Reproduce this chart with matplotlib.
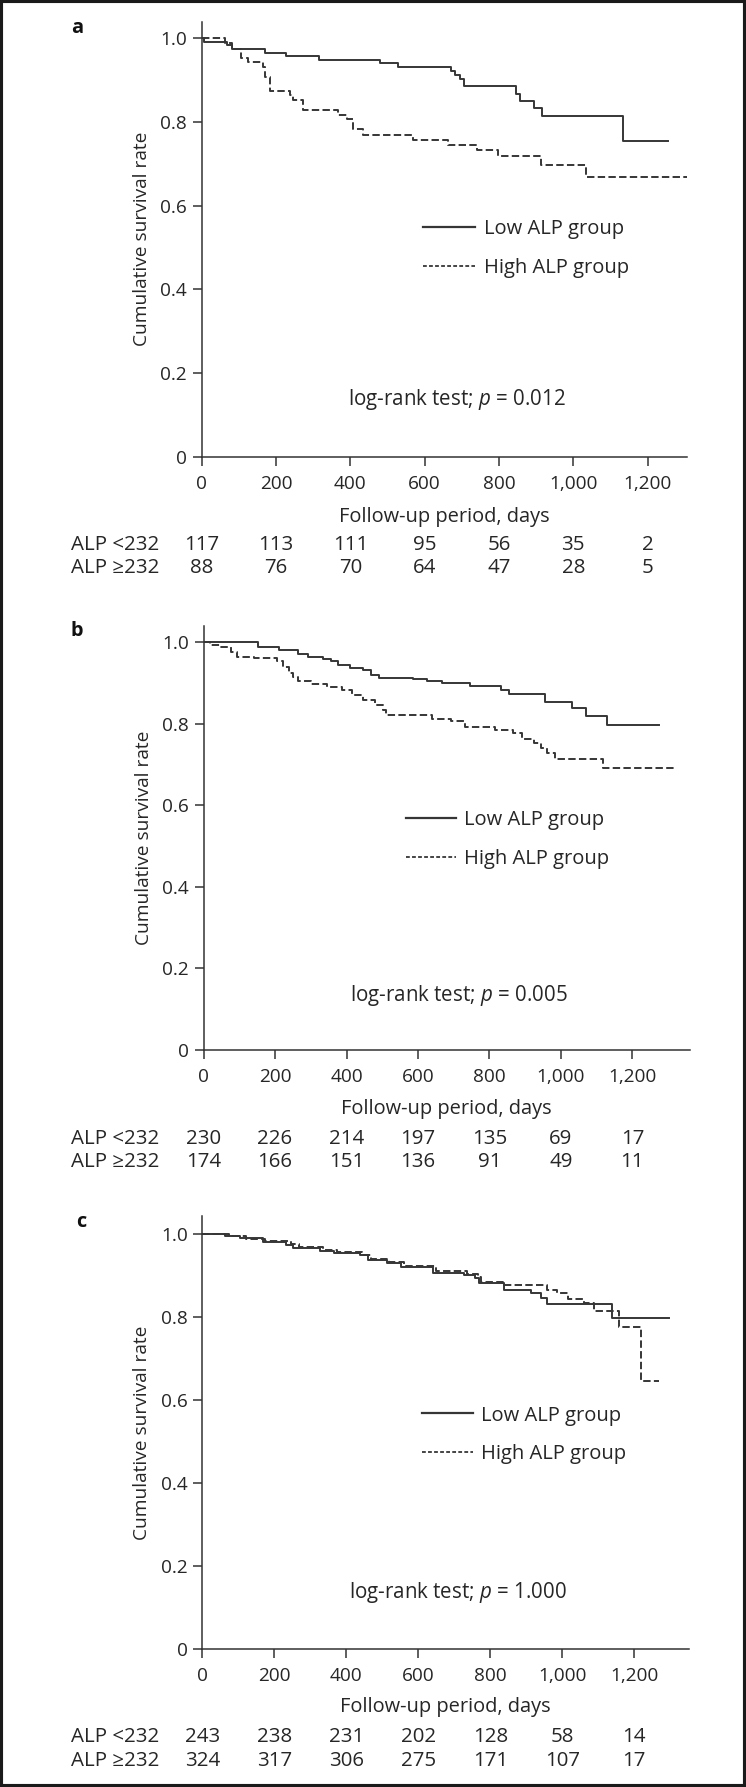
import matplotlib

matplotlib.use("Agg")
import matplotlib.pyplot as plt
from matplotlib.patches import Rectangle
from matplotlib.transforms import blended_transform_factory

plt.rcParams["font.family"] = ["Open Sans", "Noto Sans", "DejaVu Sans"]
plt.rcParams["mathtext.fontset"] = "custom"
plt.rcParams["mathtext.rm"] = "Open Sans"
plt.rcParams["mathtext.it"] = "Open Sans:italic"

INK = "#262626"
CURVE = "#363636"

# Kaplan-Meier step points (days, survival)
a_low_days = [0, 5, 67, 82, 170, 227, 317, 479, 528, 672, 682, 695, 705, 845, 857, 894, 915, 1135, 1255]
a_low_surv = [1.0, 0.991, 0.983, 0.975, 0.966, 0.957, 0.948, 0.940, 0.931, 0.922, 0.913, 0.903, 0.885,
              0.868, 0.851, 0.834, 0.814, 0.755, 0.755]
a_high_days = [0, 62, 82, 105, 124, 165, 170, 185, 237, 247, 273, 366, 391, 407, 433, 570, 662, 742, 798,
               912, 1035, 1306]
a_high_surv = [1.0, 0.988, 0.974, 0.952, 0.944, 0.932, 0.908, 0.874, 0.864, 0.852, 0.828, 0.816, 0.806,
               0.784, 0.768, 0.758, 0.746, 0.732, 0.718, 0.698, 0.668, 0.668]

b_low_days = [0, 152, 211, 265, 292, 334, 356, 377, 409, 447, 468, 490, 586, 624, 667, 747, 833, 854, 956,
              1031, 1069, 1128, 1274]
b_low_surv = [1.0, 0.989, 0.981, 0.971, 0.963, 0.959, 0.953, 0.944, 0.936, 0.932, 0.920, 0.913, 0.909,
              0.906, 0.901, 0.894, 0.883, 0.873, 0.853, 0.840, 0.820, 0.797, 0.797]
b_high_days = [0, 18, 45, 77, 93, 141, 206, 222, 238, 249, 265, 302, 345, 388, 415, 447, 479, 501, 511, 640,
               693, 731, 817, 865, 892, 924, 945, 961, 983, 1117, 1320]
b_high_surv = [1.0, 0.993, 0.988, 0.977, 0.965, 0.961, 0.953, 0.939, 0.924, 0.914, 0.904, 0.897, 0.890,
               0.883, 0.871, 0.859, 0.847, 0.834, 0.822, 0.812, 0.806, 0.793, 0.785, 0.777, 0.762, 0.752,
               0.740, 0.728, 0.713, 0.691, 0.691]

c_low_days = [0, 62, 104, 168, 232, 253, 328, 365, 439, 461, 514, 551, 641, 727, 759, 769, 837, 912, 940,
              958, 1138, 1298]
c_low_surv = [1.0, 0.995, 0.990, 0.981, 0.973, 0.967, 0.960, 0.955, 0.949, 0.937, 0.931, 0.921, 0.906,
              0.901, 0.893, 0.881, 0.866, 0.857, 0.845, 0.832, 0.797, 0.797]
c_high_days = [0, 73, 120, 173, 245, 268, 335, 375, 445, 470, 520, 560, 650, 735, 765, 775, 837, 958, 985,
               1015, 1061, 1088, 1157, 1218, 1270]
c_high_surv = [1.0, 0.995, 0.989, 0.984, 0.975, 0.968, 0.962, 0.957, 0.950, 0.939, 0.933, 0.923, 0.910,
               0.903, 0.896, 0.885, 0.877, 0.866, 0.858, 0.843, 0.835, 0.815, 0.776, 0.645, 0.645]

# numbers at risk
risk_days = [0, 200, 400, 600, 800, 1000, 1200]
a_risk_low = [117, 113, 111, 95, 56, 35, 2]
a_risk_high = [88, 76, 70, 64, 47, 28, 5]
b_risk_low = [230, 226, 214, 197, 135, 69, 17]
b_risk_high = [174, 166, 151, 136, 91, 49, 11]
c_risk_low = [243, 238, 231, 202, 128, 58, 14]
c_risk_high = [324, 317, 306, 275, 171, 107, 17]

p_values = ["0.012", "0.005", "1.000"]
panel_letters = ["a", "b", "c"]
row_labels = ["ALP <232", "ALP \u2265232"]
group_labels = ["Low ALP group", "High ALP group"]
x_ticks = [0, 200, 400, 600, 800, 1000, 1200]
x_tick_labels = ["0", "200", "400", "600", "800", "1,000", "1,200"]
y_ticks = [0, 0.2, 0.4, 0.6, 0.8, 1.0]
y_tick_labels = ["0", "0.2", "0.4", "0.6", "0.8", "1.0"]

W, H = 746, 1787
DASH = (0, (3.8, 1.7))
LEG_DASH = (0, (2.1, 1.25))

# layout per panel: axes rect in pixels (left, top, right, bottom), x max, y max,
# legend line x-range / y levels (axes fraction), text rows (axes fraction), letter pos (px)
panels = [
    dict(px=(201.7, 21.6, 686.9, 456.7), xmax=1306, ymax=1.040,
         leg_x=(0.457, 0.564, 0.581), leg_y=(0.529, 0.439), p_y=0.119,
         xlab_y=-0.1165, rows_y=(-0.2133, -0.2684), row_x=-0.270, letter=(77, 28)),
    dict(px=(203.6, 625.7, 689.5, 1050.0), xmax=1360, ymax=1.0407,
         leg_x=(0.416, 0.519, 0.535), leg_y=(0.547, 0.456), p_y=0.1155,
         xlab_y=-0.1157, rows_y=(-0.2227, -0.2762), row_x=-0.273, letter=(77, 631)),
    dict(px=(202.4, 1216.0, 688.8, 1649.3), xmax=1352, ymax=1.0433,
         leg_x=(0.451, 0.557, 0.572), leg_y=(0.545, 0.456), p_y=0.1177,
         xlab_y=-0.111, rows_y=(-0.2144, -0.2682), row_x=-0.270, letter=(81, 1222)),
]

curves = [
    ((a_low_days, a_low_surv), (a_high_days, a_high_surv)),
    ((b_low_days, b_low_surv), (b_high_days, b_high_surv)),
    ((c_low_days, c_low_surv), (c_high_days, c_high_surv)),
]
risks = [(a_risk_low, a_risk_high), (b_risk_low, b_risk_high), (c_risk_low, c_risk_high)]

fig = plt.figure(figsize=(W / 100, H / 100), dpi=100)
renderer = fig.canvas.get_renderer()


def fit_size(text, target_px):
    # font size that gives the text the width it has in the original
    probe = fig.text(0, 0, text, fontsize=10)
    width = probe.get_window_extent(renderer).width
    probe.remove()
    return 10 * target_px / width


FS_TICK = fit_size("1,200", 48.5)
FS_LEG = fit_size("Low ALP group", 140)
FS_NOTE = fit_size("log-rank test; $\\mathit{p}$ = 0.012", 219)
FS_XLAB = fit_size("Follow-up period, days", 210)
FS_YLAB = fit_size("Cumulative survival rate", 216)
FS_ROW = fit_size("ALP <232", 88)

for i, lay in enumerate(panels):
    l, t, r, b = lay["px"]
    ax = fig.add_axes([l / W, 1 - b / H, (r - l) / W, (b - t) / H])
    (low_t, low_s), (high_t, high_s) = curves[i]
    ax.step(low_t, low_s, where="post", color=CURVE, lw=1.4)
    ax.step(high_t, high_s, where="post", color=CURVE, lw=1.4, linestyle=DASH)

    ax.set_xlim(0, lay["xmax"])
    ax.set_ylim(0, lay["ymax"])
    for side in ("top", "right"):
        ax.spines[side].set_visible(False)
    for side in ("left", "bottom"):
        ax.spines[side].set_color("#333333")
        ax.spines[side].set_linewidth(1.1)
    ax.set_xticks(x_ticks, x_tick_labels)
    ax.set_yticks(y_ticks, y_tick_labels)
    ax.tick_params(direction="out", length=6.5, width=1.1, color="#333333",
                   labelsize=FS_TICK, labelcolor=INK)
    ax.tick_params(axis="x", pad=6.6)
    ax.tick_params(axis="y", pad=4)

    ax.set_ylabel("Cumulative survival rate", fontsize=FS_YLAB, color=INK)
    ax.yaxis.set_label_coords(-0.105, 0.5)
    ax.set_xlabel("Follow-up period, days", fontsize=FS_XLAB, color=INK)
    ax.xaxis.set_label_coords(0.5, lay["xlab_y"])

    # legend drawn by hand to sit where the original has it
    x0, x1, xt = lay["leg_x"]
    y_low, y_high = lay["leg_y"]
    ax.plot([x0, x1], [y_low, y_low], transform=ax.transAxes, color=CURVE, lw=1.6, clip_on=False)
    ax.plot([x0, x1], [y_high, y_high], transform=ax.transAxes, color=CURVE, lw=1.3,
            linestyle=LEG_DASH, clip_on=False)
    ax.text(xt, y_low, group_labels[0], transform=ax.transAxes, fontsize=FS_LEG, color=INK,
            va="center_baseline")
    ax.text(xt, y_high, group_labels[1], transform=ax.transAxes, fontsize=FS_LEG, color=INK,
            va="center_baseline")

    ax.text(0.302, lay["p_y"], "log-rank test; $\\mathit{p}$ = " + p_values[i],
            transform=ax.transAxes, fontsize=FS_NOTE, color=INK, va="baseline")

    # numbers at risk under the ticks
    trans = blended_transform_factory(ax.transData, ax.transAxes)
    for row, counts in enumerate(risks[i]):
        y = lay["rows_y"][row]
        ax.text(lay["row_x"], y, row_labels[row], transform=ax.transAxes, fontsize=FS_ROW,
                color=INK, va="baseline", ha="left")
        for d, n in zip(risk_days, counts):
            ax.text(d, y, str(n), transform=trans, fontsize=FS_ROW, color=INK,
                    va="baseline", ha="center", clip_on=False)

    lx, ly = lay["letter"]
    fig.text(lx / W, 1 - ly / H, panel_letters[i], fontsize=FS_TICK * 1.05, fontweight="bold",
             color="#111111", ha="center", va="center")

# black frame round the whole figure
fig.patches.append(Rectangle((0, 0), 1, 1, transform=fig.transFigure, fill=False,
                             edgecolor="#1a1a1a", linewidth=4.4))

fig.savefig("out.png", dpi=100, facecolor="white")
